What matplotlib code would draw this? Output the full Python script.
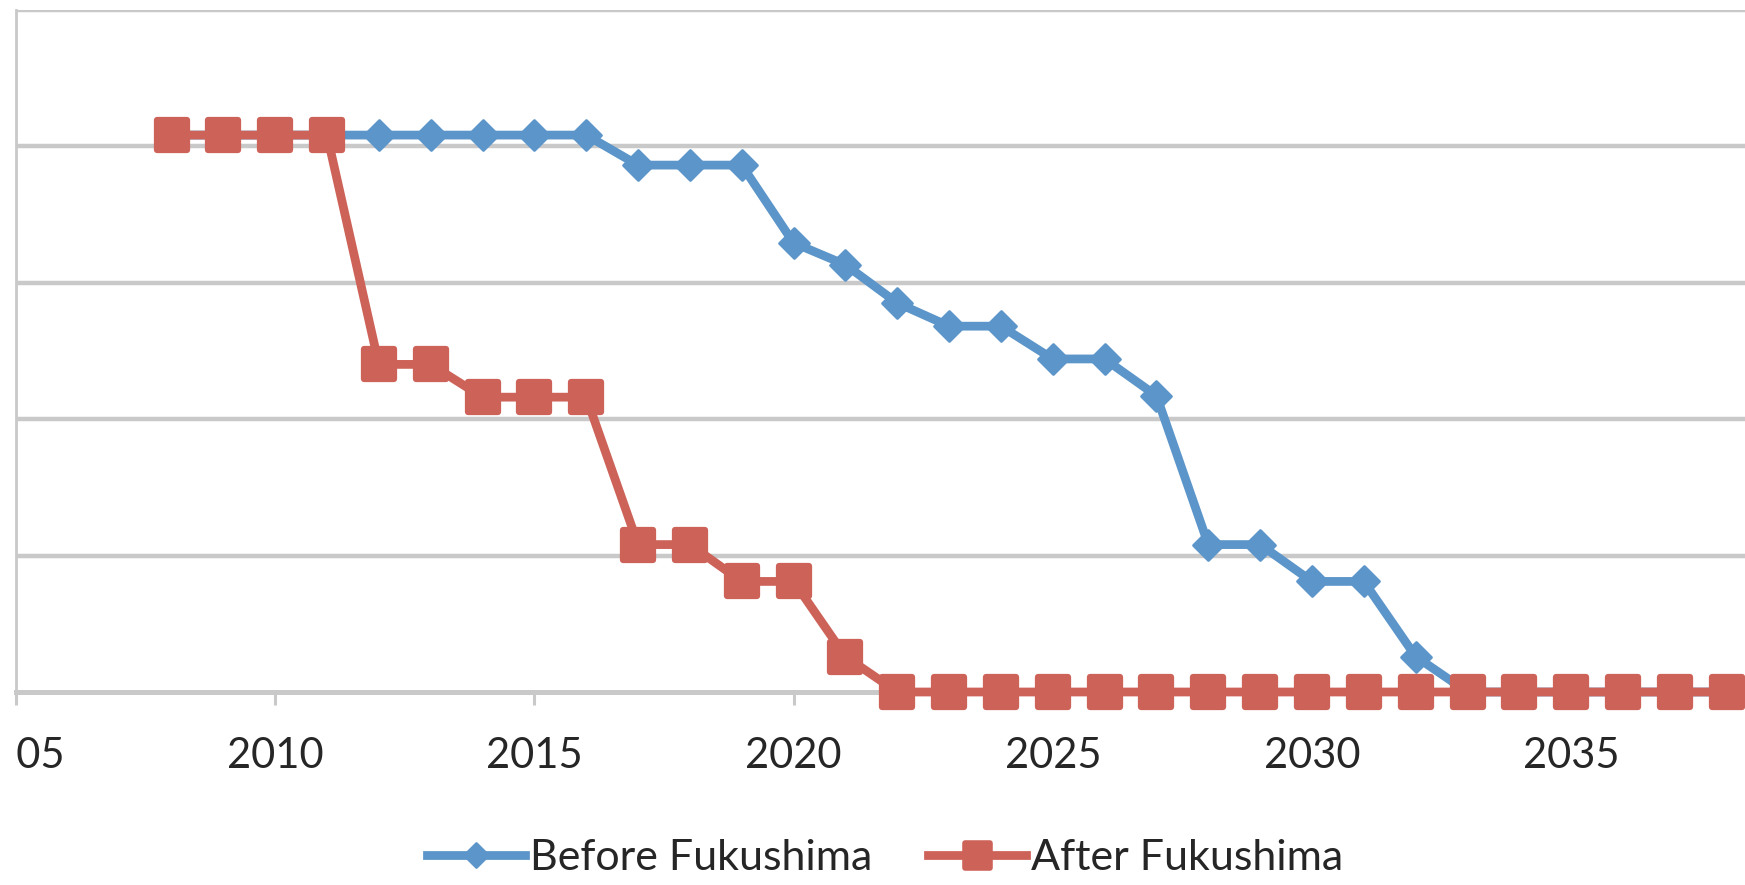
import matplotlib
matplotlib.use('Agg')
import matplotlib.pyplot as plt
from matplotlib.lines import Line2D
from matplotlib.markers import MarkerStyle
from matplotlib.transforms import Bbox, TransformedBbox

plt.rcParams['font.family'] = ['Lato', 'DejaVu Sans']

# Data (gridlines every 10 units)
years = list(range(2008, 2039))
before = [40.8, 40.8, 40.8, 40.8, 40.8, 40.8, 40.8, 40.8, 40.8,
          38.6, 38.6, 38.6, 32.9, 31.3, 28.5, 26.8, 26.8, 24.4, 24.4,
          21.7, 10.8, 10.8, 8.1, 8.1, 2.6,
          0, 0, 0, 0, 0, 0]
after = [40.8, 40.8, 40.8, 40.8, 24.0, 24.0, 21.6, 21.6, 21.6,
         10.8, 10.8, 8.1, 8.1, 2.6,
         0, 0, 0, 0, 0, 0, 0, 0, 0, 0, 0, 0, 0, 0, 0, 0, 0]
labels = ['Before Fukushima', 'After Fukushima']
tick_years = [2005, 2010, 2015, 2020, 2025, 2030, 2035]

blue = '#5b95c9'
red = '#cd6259'
grid_c = '#c9c9c9'

W, H = 1745, 885
fig = plt.figure(figsize=(W / 100, H / 100), dpi=100)
# the chart is a crop: plot area runs past the right edge
x0, px_per_year = 16, 51.84
ax = fig.add_axes([x0 / W, 1 - 692 / H, 35 * px_per_year / W, (692 - 9.5) / H])

diamond = MarkerStyle('D', joinstyle='round')
square = MarkerStyle('s', joinstyle='round')

ax.plot(years, before, color=blue, linewidth=6.3, marker=diamond,
        markersize=15, markeredgewidth=2, markerfacecolor=blue,
        markeredgecolor=blue, zorder=3, clip_on=False)
ax.plot(years, after, color=red, linewidth=6.3, marker=square,
        markersize=22, markeredgewidth=4.5, markerfacecolor=red,
        markeredgecolor=red, zorder=4, clip_on=False)

ax.set_xlim(2005, 2040)
ax.set_ylim(0, 50)
ax.set_yticks([10, 20, 30, 40, 50])
ax.yaxis.grid(True, color=grid_c, linewidth=3.2)
ax.set_axisbelow(True)
ax.tick_params(axis='y', left=False, labelleft=False)

ax.set_xticks(tick_years)
ax.set_xticklabels([str(y) for y in tick_years])
ax.tick_params(axis='x', direction='out', length=9.5, width=2.2,
               color=grid_c, labelsize=30, labelcolor='#262626', pad=23)

# the original chart area is cropped at the left axis line
clip = TransformedBbox(Bbox([[x0 / W, 0], [1, 1]]), fig.transFigure)
first = ax.get_xticklabels()[0]
first.set_clip_box(clip)
first.set_clip_on(True)

for s in ['top', 'right']:
    ax.spines[s].set_visible(False)
ax.spines['bottom'].set_color(grid_c)
ax.spines['bottom'].set_linewidth(3.6)
ax.spines['left'].set_color(grid_c)
ax.spines['left'].set_linewidth(2)
ax.spines['left'].set_bounds(0, 50)

handles = [
    Line2D([], [], color=blue, linewidth=6.3, marker=diamond, markersize=12,
           markeredgewidth=2, markerfacecolor=blue, markeredgecolor=blue),
    Line2D([], [], color=red, linewidth=6.3, marker=square, markersize=18,
           markeredgewidth=4, markerfacecolor=red, markeredgecolor=red),
]
fig.legend(handles, labels, loc='center', bbox_to_anchor=(885 / W, 1 - 858 / H),
           ncol=2, frameon=False, fontsize=31, handlelength=2.28,
           handletextpad=0.12, columnspacing=1.28, labelcolor='#262626')

fig.savefig('out.png', dpi=100)
